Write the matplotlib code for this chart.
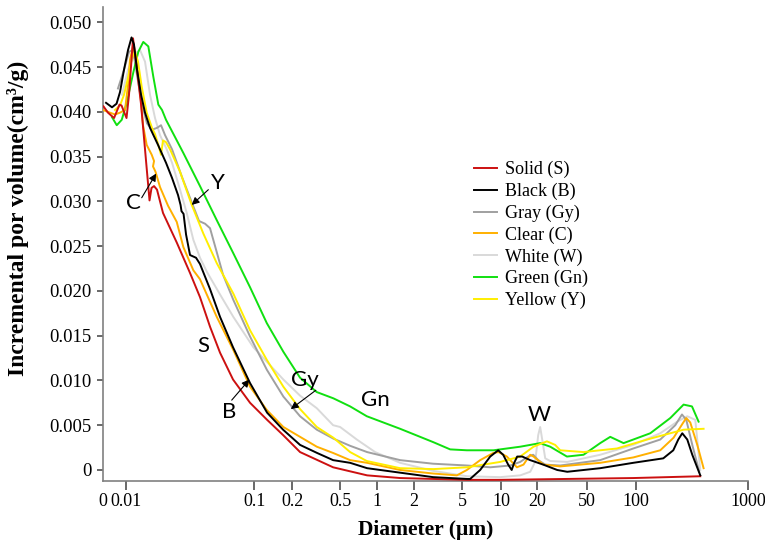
import numpy as np
import matplotlib
matplotlib.use("Agg")
import matplotlib.pyplot as plt
from matplotlib.ticker import FixedLocator, FixedFormatter

# ---------------- data (diameter in um, incremental pore volume in cm3/g) ----------------
solid_d = [0.00668, 0.00724, 0.00807, 0.0089, 0.00923, 0.01009, 0.01055, 0.01134, 0.01218, 0.0131,
           0.01406, 0.01524, 0.0158, 0.01653, 0.01743, 0.01941, 0.02483, 0.0315, 0.03767, 0.04508,
           0.05393, 0.06811, 0.0924, 0.1262, 0.1694, 0.2329, 0.4375, 0.8349, 1.549, 2.884,
           5.47, 9.82, 34.9, 95.9, 374]
solid_v = [0.0406, 0.0399, 0.0393, 0.0408, 0.0407, 0.0393, 0.0419, 0.0482, 0.0447, 0.0408,
           0.0358, 0.0301, 0.0315, 0.0317, 0.0313, 0.0287, 0.0254, 0.0220, 0.0193, 0.0160,
           0.0131, 0.0101, 0.0075, 0.0056, 0.0039, 0.0020, 0.0003, -0.0006, -0.0009, -0.0010,
           -0.0011, -0.0011, -0.0010, -0.0009, -0.0007]

black_d = [0.00699, 0.00778, 0.00844, 0.00898, 0.00965, 0.01037, 0.01104, 0.01154, 0.01218, 0.0131,
           0.01406, 0.01538, 0.01775, 0.02049, 0.02283, 0.02541, 0.02658, 0.02704, 0.02805, 0.02933,
           0.0315, 0.03508, 0.03767, 0.04508, 0.05393, 0.06811, 0.0924, 0.1262, 0.1694, 0.2329,
           0.3223, 0.4375, 0.6046, 0.8349, 1.549, 2.884, 5.47, 5.764, 6.887, 8.226,
           9.48, 10.39, 11.44, 12.24, 12.84, 13.61, 14.98, 17.48, 22.36, 29.01,
           34.94, 60.5, 95.9, 174.5, 214.5, 237.7, 258.1, 286.2, 317.3, 374]
black_v = [0.0410, 0.0405, 0.0409, 0.0422, 0.0447, 0.0469, 0.0483, 0.0475, 0.0447, 0.0419,
           0.0399, 0.0382, 0.0363, 0.0343, 0.0326, 0.0307, 0.0296, 0.0289, 0.0286, 0.0263,
           0.0240, 0.0237, 0.0230, 0.0202, 0.0171, 0.0137, 0.0097, 0.0064, 0.0045, 0.0028,
           0.0019, 0.0011, 0.0008, 0.0002, -0.0003, -0.0008, -0.0010, -0.0010, 0.0000, 0.0015,
           0.0022, 0.0017, 0.0006, 0.0000, 0.0008, 0.0015, 0.0015, 0.0011, 0.0006, 0.0000,
           -0.0002, 0.0002, 0.0008, 0.0013, 0.0022, 0.0034, 0.0041, 0.0034, 0.0017, -0.0006]

gray_d = [0.00866, 0.00965, 0.01055, 0.01134, 0.01218, 0.01332, 0.01457, 0.01594, 0.01743, 0.01873,
          0.02012, 0.02283, 0.0273, 0.03266, 0.03703, 0.04123, 0.04508, 0.05024, 0.05694, 0.06844,
          0.0924, 0.1255, 0.1703, 0.2329, 0.3204, 0.44, 0.6046, 0.8349, 1.549, 2.884,
          5.47, 8.226, 11.89, 14.42, 16.82, 18.52, 20.38, 23.21, 30.67, 60.5,
          95.9, 164, 223.4, 256.6, 280.3, 317.3, 366.4]
gray_v = [0.0426, 0.0447, 0.0467, 0.0469, 0.0441, 0.0408, 0.0387, 0.0380, 0.0382, 0.0385,
          0.0374, 0.0358, 0.0327, 0.0298, 0.0278, 0.0275, 0.0270, 0.0246, 0.0218, 0.0190,
          0.0149, 0.0112, 0.0082, 0.0060, 0.0045, 0.0035, 0.0027, 0.0020, 0.0011, 0.0007,
          0.0005, 0.0003, 0.0005, 0.0009, 0.0015, 0.0017, 0.0011, 0.0006, 0.0005, 0.0011,
          0.0024, 0.0034, 0.0050, 0.0062, 0.0056, 0.0028, -0.0002]

clear_d = [0.00662, 0.00751, 0.00821, 0.00898, 0.00982, 0.01037, 0.01074, 0.01134, 0.01196, 0.01285,
           0.01356, 0.01449, 0.01585, 0.01653, 0.01622, 0.01697, 0.01839, 0.02125, 0.02483, 0.02794,
           0.03343, 0.03767, 0.05085, 0.06844, 0.0924, 0.1255, 0.1703, 0.2329, 0.3204, 0.4375,
           0.6046, 0.8349, 1.549, 2.901, 4.522, 5.436, 6.887, 8.677, 9.532, 11.16,
           13.53, 15.36, 17.48, 18.63, 22.48, 30.67, 60.5, 95.9, 164, 215.8,
           263.5, 280.3, 304.5, 351.7, 400.5]
clear_v = [0.0402, 0.0399, 0.0397, 0.0399, 0.0402, 0.0430, 0.0458, 0.0473, 0.0458, 0.0425,
           0.0385, 0.0363, 0.0352, 0.0345, 0.0339, 0.0333, 0.0316, 0.0295, 0.0277, 0.0249,
           0.0223, 0.0213, 0.0171, 0.0134, 0.0093, 0.0067, 0.0048, 0.0037, 0.0026, 0.0019,
           0.0011, 0.0008, 0.0000, -0.0004, -0.0006, 0.0000, 0.0011, 0.0019, 0.0020, 0.0015,
           0.0003, 0.0006, 0.0017, 0.0015, 0.0006, 0.0004, 0.0008, 0.0014, 0.0022, 0.0036,
           0.0053, 0.0058, 0.0053, 0.0028, 0.0002]

white_d = [0.00931, 0.01037, 0.01154, 0.01285, 0.01406, 0.01538, 0.01682, 0.01839, 0.02075, 0.02283,
           0.02634, 0.0297, 0.03343, 0.03767, 0.04273, 0.05393, 0.06844, 0.09804, 0.1703, 0.2329,
           0.3204, 0.4375, 0.5, 0.6866, 0.9719, 1.549, 2.884, 5.47, 9.82, 14.42,
           17.48, 19.24, 20.38, 21.14, 21.95, 23.21, 25.47, 34.94, 60.5, 95.9,
           164, 232.8, 286.2, 337.5, 374]
white_v = [0.0419, 0.0447, 0.0464, 0.0469, 0.0456, 0.0419, 0.0393, 0.0374, 0.0358, 0.0343,
           0.0313, 0.0287, 0.0257, 0.0237, 0.0221, 0.0196, 0.0171, 0.0137, 0.0101, 0.0083,
           0.0069, 0.0050, 0.0048, 0.0034, 0.0020, 0.0008, -0.0001, -0.0007, -0.0008, -0.0006,
           -0.0002, 0.0009, 0.0039, 0.0048, 0.0034, 0.0013, 0.0010, 0.0009, 0.0017, 0.0028,
           0.0041, 0.0054, 0.0060, 0.0056, 0.0000]

green_d = [0.00778, 0.00847, 0.00926, 0.01013, 0.0114, 0.01247, 0.01363, 0.01492, 0.01632, 0.01785,
           0.01907, 0.02049, 0.02794, 0.03767, 0.05085, 0.06844, 0.0924, 0.1255, 0.1703, 0.2329,
           0.3204, 0.44, 0.6046, 0.8301, 1.549, 2.901, 3.982, 5.436, 8.723, 14.42,
           21.14, 25.47, 34.74, 47.3, 60.5, 69.6, 83.8, 133.5, 201.6, 265.2,
           315.3, 361.2]
green_v = [0.0394, 0.0385, 0.0391, 0.0410, 0.0444, 0.0467, 0.0478, 0.0473, 0.0439, 0.0408,
           0.0402, 0.0391, 0.0354, 0.0317, 0.0279, 0.0242, 0.0204, 0.0164, 0.0132, 0.0103,
           0.0087, 0.0080, 0.0071, 0.0060, 0.0046, 0.0031, 0.0023, 0.0022, 0.0022, 0.0026,
           0.0030, 0.0026, 0.0015, 0.0017, 0.0030, 0.0037, 0.0030, 0.0041, 0.0058, 0.0073,
           0.0071, 0.0054]

yellow_d = [0.00821, 0.00898, 0.00965, 0.01037, 0.01113, 0.01175, 0.0124, 0.01325, 0.01449, 0.01594,
            0.01682, 0.01785, 0.01873, 0.01941, 0.02049, 0.02203, 0.02634, 0.03248, 0.03999, 0.05085,
            0.06844, 0.0924, 0.1255, 0.1703, 0.2329, 0.3204, 0.44, 0.6046, 0.8301, 1.549,
            2.901, 5.436, 9.82, 14.42, 18.63, 23.95, 27.94, 30.67, 47.3, 76.4,
            133.5, 265.2, 400.5]
yellow_v = [0.0402, 0.0407, 0.0419, 0.0438, 0.0460, 0.0467, 0.0456, 0.0428, 0.0399, 0.0382,
            0.0375, 0.0363, 0.0352, 0.0368, 0.0366, 0.0358, 0.0333, 0.0296, 0.0264, 0.0231,
            0.0197, 0.0156, 0.0123, 0.0093, 0.0068, 0.0048, 0.0036, 0.0020, 0.0010, 0.0002,
            0.0001, 0.0003, 0.0009, 0.0015, 0.0026, 0.0032, 0.0028, 0.0022, 0.0020, 0.0024,
            0.0035, 0.0045, 0.0046]

series_labels = ["Solid (S)", "Black (B)", "Gray (Gy)", "Clear (C)", "White (W)", "Green (Gn)", "Yellow (Y)"]
x_tick_values = [0.01, 0.1, 0.2, 0.5, 1, 2, 5, 10, 20, 50, 100, 1000]
x_tick_labels = ["0.01", "0.1", "0.2", "0.5", "1", "2", "5", "10", "20", "50", "100", "1000"]
x_origin = 0.00662
y_tick_values = [0, 0.005, 0.010, 0.015, 0.020, 0.025, 0.030, 0.035, 0.040, 0.045, 0.050]

# ---------------- axis scale (uneven log axis of the original) ----------------
_L = np.array([-12, np.log10(x_origin), -2, -1, np.log10(0.2), np.log10(0.5), 0, np.log10(2),
               np.log10(5), 1, np.log10(20), np.log10(50), 2, 3, 12])
_P = np.array([103 - (np.log10(x_origin) + 12) * 128.5, 103, 126, 254.4, 292, 340, 376.5, 413.7,
               462, 501, 537, 586.3, 636, 747.7, 747.7 + 9 * 111.7])

def _fwd(x):
    x = np.asarray(x, dtype=float)
    lx = np.log10(np.where(x > 0, x, 1e-12))
    return np.interp(lx, _L, _P)

def _inv(p):
    p = np.asarray(p, dtype=float)
    return 10 ** np.interp(p, _P, _L)

serif = ["Liberation Serif", "DejaVu Serif"]
sans = ["Lato", "DejaVu Sans"]

fig = plt.figure(figsize=(7.65, 5.47), dpi=100)
ax = fig.add_axes([103 / 765, (547 - 481) / 547, 645 / 765, 474 / 547])
ax.set_xscale("function", functions=(_fwd, _inv))

series = [
    (solid_d, solid_v, "#cc1010", 5),
    (black_d, black_v, "#000000", 6),
    (gray_d, gray_v, "#a0a0a0", 3),
    (clear_d, clear_v, "#ffb000", 4),
    (white_d, white_v, "#d9d9d9", 2),
    (green_d, green_v, "#10e010", 3),
    (yellow_d, yellow_v, "#ffee00", 4),
]
handles = []
for (d, v, c, z), lab in zip(series, series_labels):
    h, = ax.plot(d, v, color=c, lw=1.4, zorder=z, label=lab, solid_joinstyle="round")
    handles.append(h)

ax.set_xlim(x_origin, 1000)
ax.set_ylim(-0.00123, 0.0517)

ax.xaxis.set_major_locator(FixedLocator(x_tick_values))
ax.xaxis.set_major_formatter(FixedFormatter(x_tick_labels))
ax.xaxis.set_minor_locator(FixedLocator([x_origin]))
ax.xaxis.set_minor_formatter(FixedFormatter(["0"]))
ax.set_yticks(y_tick_values)
ax.set_yticklabels(["0" if t == 0 else f"{t:.3f}" for t in y_tick_values])

for s in ["top", "right"]:
    ax.spines[s].set_visible(False)
for s in ["left", "bottom"]:
    ax.spines[s].set_color("#808080")
    ax.spines[s].set_linewidth(1.2)

ax.tick_params(axis="x", which="major", direction="out", length=6.3, width=1.1, color="#404040",
               labelsize=13, pad=2.5)
ax.tick_params(axis="x", which="minor", length=0, labelsize=13, pad=8.8)
ax.tick_params(axis="y", direction="out", length=4.5, width=1.1, color="#404040", labelsize=13.5, pad=4)
for lbl in ax.get_xticklabels(which="both") + ax.get_yticklabels():
    lbl.set_fontfamily(serif)

ax.set_xlabel("Diameter (μm)", fontsize=15.5, fontweight="bold", family=serif, labelpad=7)
ax.set_ylabel("Incremental por volume(cm³/g)", fontsize=17, fontweight="bold", family=serif)
ax.yaxis.set_label_coords(-0.114, 0.555)

leg = ax.legend(handles=handles, loc="upper left", bbox_to_anchor=(0.575, 0.675), frameon=False,
                prop={"family": serif, "size": 13}, handlelength=1.3, handletextpad=0.45,
                labelspacing=0.25, borderpad=0, borderaxespad=0)

# ---------------- annotations ----------------
arrow = dict(arrowstyle="-|>", color="black", lw=0.8, mutation_scale=11, shrinkA=0, shrinkB=0)
ax.annotate("", xy=(0.01716, 0.0331), xytext=(0.01325, 0.0304), arrowprops=arrow, zorder=10)
ax.annotate("", xy=(0.03248, 0.0296), xytext=(0.04375, 0.0313), arrowprops=arrow, zorder=10)
ax.annotate("", xy=(0.0913, 0.0101), xytext=(0.0665, 0.0078), arrowprops=arrow, zorder=10)
ax.annotate("", xy=(0.1953, 0.0068), xytext=(0.3144, 0.0089), arrowprops=arrow, zorder=10)
txt = dict(fontsize=16, family=sans, ha="center", va="center", zorder=10)
ax.text(0.01139, 0.0298, "C", **txt)
ax.text(0.05234, 0.0320, "Y", **txt)
ax.text(0.04, 0.0138, "S", **txt)
ax.text(0.0634, 0.0065, "B", **txt)
ax.text(0.2563, 0.0101, "Gy", **txt)
ax.text(0.972, 0.0078, "Gn", **txt)
ax.text(20.87, 0.0061, "W", **txt)

fig.savefig("out.png", dpi=100)
